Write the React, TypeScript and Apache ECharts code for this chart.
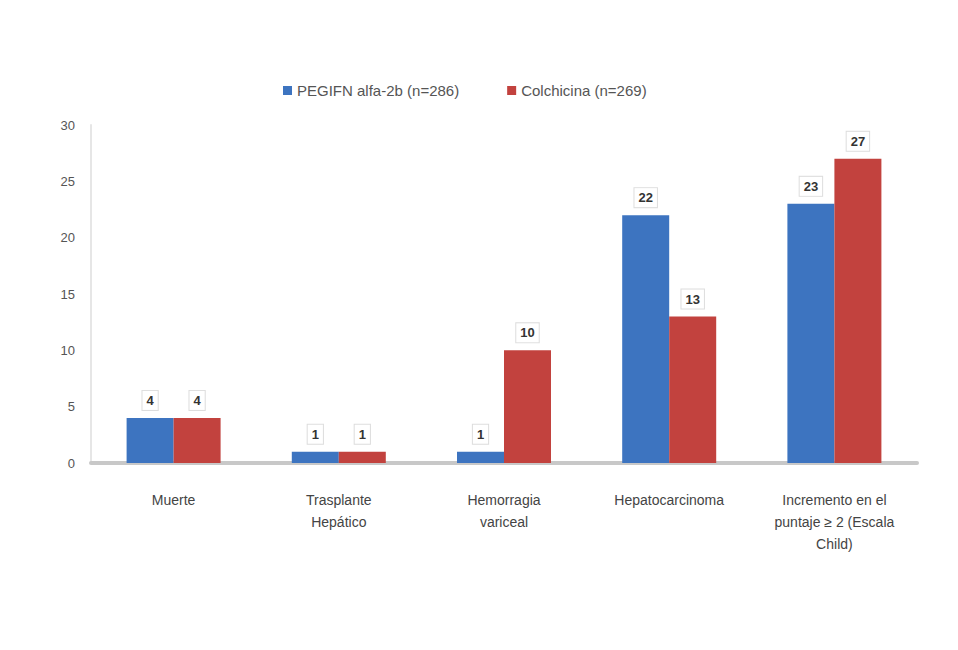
import React, { useEffect, useRef } from "react";
import * as echarts from "echarts";

const categories = [
  "Muerte",
  "Trasplante\nHepático",
  "Hemorragia\nvariceal",
  "Hepatocarcinoma",
  "Incremento en el\npuntaje ≥ 2 (Escala\nChild)",
];
const seriesNames = ["PEGIFN alfa-2b (n=286)", "Colchicina (n=269)"];
const pegValues = [4, 1, 1, 22, 23];
const colValues = [4, 1, 10, 13, 27];
const yTicks = { min: 0, max: 30, interval: 5 };

export default function App() {
  const ref = useRef<HTMLDivElement>(null);
  useEffect(() => {
    if (!ref.current) return;
    const chart = echarts.init(ref.current, undefined, { renderer: "svg" });
    const label = {
      show: true,
      position: "top" as const,
      distance: 8,
      color: "#333",
      fontSize: 13,
      fontWeight: "bold" as const,
      fontFamily: "Liberation Sans, Arial, sans-serif",
      backgroundColor: "#fff",
      borderColor: "#ddd",
      borderWidth: 1,
      padding: [3, 4],
    };
    chart.setOption({
      animation: false,
      backgroundColor: "#fff",
      textStyle: { fontFamily: "Liberation Sans, Arial, sans-serif" },
      legend: {
        top: 70,
        left: 270,
        itemWidth: 9,
        itemHeight: 9,
        itemGap: 48,
        icon: "rect",
        textStyle: { color: "#555", fontSize: 15 },
        data: seriesNames,
      },
      grid: { left: 83, right: 33, top: 117, bottom: 179, containLabel: false },
      xAxis: {
        type: "category",
        data: categories,
        axisLine: { lineStyle: { color: "#c8c8c8", width: 4 } },
        axisTick: { show: false },
        axisLabel: { color: "#444", fontSize: 14, lineHeight: 22, margin: 26, interval: 0 },
      },
      yAxis: {
        type: "value",
        min: yTicks.min,
        max: yTicks.max,
        interval: yTicks.interval,
        axisLine: { show: true, lineStyle: { color: "#e6e6e6", width: 2 } },
        axisTick: { show: false },
        splitLine: { show: false },
        axisLabel: { color: "#555", fontSize: 13, margin: 16 },
      },
      series: [
        {
          name: seriesNames[0],
          type: "bar",
          data: pegValues,
          barWidth: 47,
          barGap: "0%",
          itemStyle: { color: "#3D74C0" },
          label,
        },
        {
          name: seriesNames[1],
          type: "bar",
          data: colValues,
          barWidth: 47,
          itemStyle: { color: "#C2423E" },
          label,
        },
      ],
    });
    return () => chart.dispose();
  }, []);
  return <div ref={ref} style={{ width: 942, height: 634 }} />;
}
